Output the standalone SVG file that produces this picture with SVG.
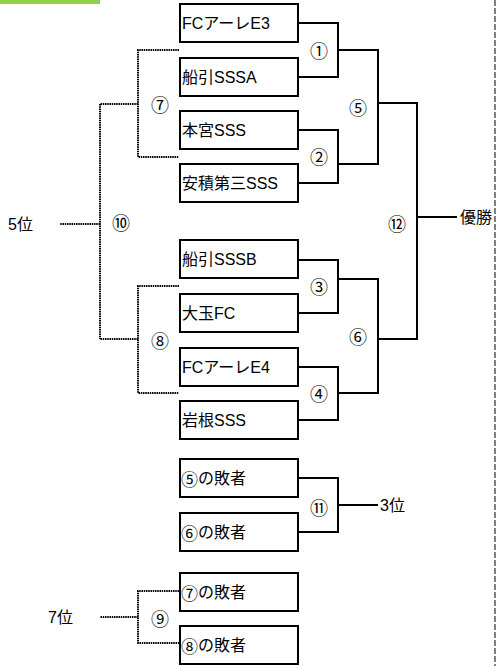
<svg xmlns="http://www.w3.org/2000/svg" width="496" height="666" viewBox="0 0 496 666">
<style>
text{font-family:"Liberation Sans","Noto Sans CJK JP",sans-serif;font-size:16px;fill:#000;dominant-baseline:central}
.n{text-anchor:middle;font-family:"Noto Sans CJK JP",sans-serif;font-size:18px}
.c{font-family:"Noto Sans CJK JP",sans-serif;font-size:17px}
.box{fill:#fff;stroke:#000;stroke-width:2}
.s{fill:none;stroke:#000;stroke-width:2}
.d{fill:none;stroke:#000;stroke-width:2;stroke-dasharray:1.5 0.75}
</style>
<rect x="0" y="0" width="100" height="4" fill="#92D050"/>
<line x1="495" y1="0" x2="495" y2="666" stroke="#000" stroke-width="1" stroke-dasharray="6 2"/>
<g id="connectors">
<path class="s" d="M298,23H338V77H298"/>
<path class="s" d="M298,130H338V183H298"/>
<path class="s" d="M298,260H338V313H298"/>
<path class="s" d="M298,367H338V420H298"/>
<path class="s" d="M338,50H378V164H338"/>
<path class="s" d="M338,279H378V393H338"/>
<path class="s" d="M378,103H417V339H378M417,217H457"/>
<path class="s" d="M298,478H338V532H298M338,505H378"/>
<path class="d" d="M179,50H138V157H179M138,104H100"/>
<path class="d" d="M100,104V339M100,224H60"/>
<path class="d" d="M179,286H138V393H179M138,339H100"/>
<path class="d" d="M179,591H138V643H179M138,617H100"/>
</g>
<g id="t1"><rect class="box" x="180" y="4" width="118" height="38"/><text x="182" y="23">FCアーレE3</text></g>
<g id="t2"><rect class="box" x="180" y="58" width="118" height="38"/><text x="182" y="77">船引SSSA</text></g>
<g id="t3"><rect class="box" x="180" y="111" width="118" height="38"/><text x="182" y="130">本宮SSS</text></g>
<g id="t4"><rect class="box" x="180" y="164" width="118" height="38"/><text x="182" y="183">安積第三SSS</text></g>
<g id="t5"><rect class="box" x="180" y="240" width="118" height="38"/><text x="182" y="259">船引SSSB</text></g>
<g id="t6"><rect class="box" x="180" y="294" width="118" height="38"/><text x="182" y="313">大玉FC</text></g>
<g id="t7"><rect class="box" x="180" y="348" width="118" height="38"/><text x="182" y="367">FCアーレE4</text></g>
<g id="t8"><rect class="box" x="180" y="401" width="118" height="38"/><text x="182" y="420">岩根SSS</text></g>
<g id="l5"><rect class="box" x="180" y="459" width="118" height="38"/><text x="181" y="478"><tspan class="c">⑤</tspan>の敗者</text></g>
<g id="l6"><rect class="box" x="180" y="513" width="118" height="38"/><text x="181" y="532"><tspan class="c">⑥</tspan>の敗者</text></g>
<g id="l7"><rect class="box" x="180" y="573" width="118" height="38"/><text x="181" y="592"><tspan class="c">⑦</tspan>の敗者</text></g>
<g id="l8"><rect class="box" x="180" y="626" width="118" height="38"/><text x="181" y="645"><tspan class="c">⑧</tspan>の敗者</text></g>
<g id="labels">
<text class="n" x="319" y="50">①</text>
<text class="n" x="319" y="156">②</text>
<text class="n" x="319" y="286">③</text>
<text class="n" x="319" y="393">④</text>
<text class="n" x="358" y="107">⑤</text>
<text class="n" x="358" y="336">⑥</text>
<text class="n" x="397" y="223">⑫</text>
<text class="n" x="319" y="507">⑪</text>
<text class="n" x="160" y="104">⑦</text>
<text class="n" x="160" y="340">⑧</text>
<text class="n" x="160" y="618">⑨</text>
<text class="n" x="121" y="222">⑩</text>
<text x="8" y="224">5位</text>
<text x="48" y="617">7位</text>
<text x="380" y="505">3位</text>
<text x="460" y="217">優勝</text>
</g>
</svg>
